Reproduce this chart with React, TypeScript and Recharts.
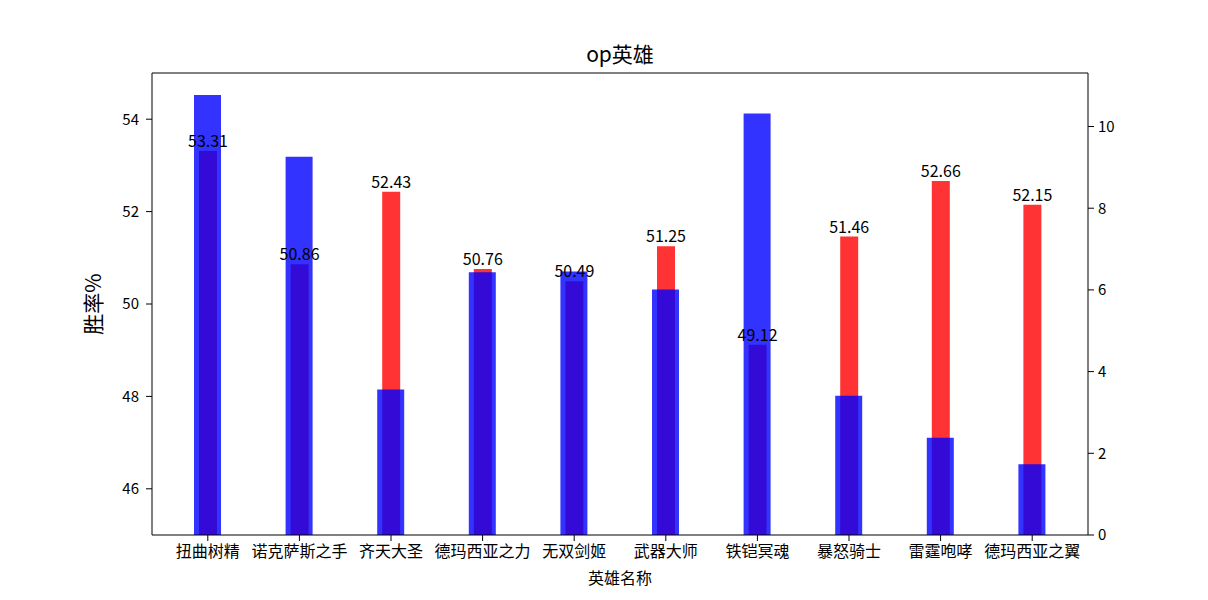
import { BarChart, Bar, XAxis, YAxis, LabelList } from 'recharts'

const heroes = ['扭曲树精', '诺克萨斯之手', '齐天大圣', '德玛西亚之力', '无双剑姬', '武器大师', '铁铠冥魂', '暴怒骑士', '雷霆咆哮', '德玛西亚之翼']
const winRates = [53.31, 50.86, 52.43, 50.76, 50.49, 51.25, 49.12, 51.46, 52.66, 52.15]
const pickRates = [10.77, 9.26, 3.56, 6.43, 6.45, 6.01, 10.32, 3.41, 2.38, 1.73]

const leftTicks = [46, 48, 50, 52, 54]
const rightTicks = [0, 2, 4, 6, 8, 10]

const data = heroes.map((name, i) => ({ name, winRate: winRates[i], pickRate: pickRates[i] }))

const font = '"Noto Sans CJK SC", "DejaVu Sans", sans-serif'
const tickStyle = { fill: '#000', fontSize: 15, fontFamily: font }

export default function App() {
  return (
    <div style={{ position: 'absolute', left: 0, top: 0, width: 1208, height: 600, background: '#fff' }}>
      <BarChart
        width={1208}
        height={600}
        data={data}
        margin={{ top: 72, right: 60, bottom: 35, left: 92 }}
      >
        <XAxis
          xAxisId="a"
          dataKey="name"
          padding={{ left: 10, right: 10 }}
          stroke="#000"
          tickSize={6}
          tickMargin={5}
          height={30}
          interval={0}
          tick={{ ...tickStyle, fontSize: 16 }}
        />
        {/* top spine, also carries the blue bars */}
        <XAxis
          xAxisId="b"
          dataKey="name"
          orientation="top"
          padding={{ left: 10, right: 10 }}
          stroke="#000"
          tick={false}
          tickLine={false}
          height={1}
        />
        <YAxis
          yAxisId="left"
          domain={[45, 55]}
          ticks={leftTicks}
          stroke="#000"
          width={60}
          tickSize={6}
          tickMargin={7}
          tick={tickStyle}
        />
        <YAxis
          yAxisId="right"
          orientation="right"
          domain={[0, 11.31]}
          ticks={rightTicks}
          stroke="#000"
          width={60}
          tickSize={6}
          tickMargin={4}
          tick={tickStyle}
        />
        <Bar xAxisId="a" yAxisId="left" dataKey="winRate" fill="red" fillOpacity={0.8} barSize={18} isAnimationActive={false}>
          <LabelList
            dataKey="winRate"
            position="top"
            offset={4}
            formatter={(v: any) => Number(v).toFixed(2)}
            style={{ fill: '#000', fontSize: 16, fontFamily: font }}
          />
        </Bar>
        <Bar xAxisId="b" yAxisId="right" dataKey="pickRate" fill="blue" fillOpacity={0.8} barSize={27} isAnimationActive={false} />
        <text x={620} y={62} textAnchor="middle" fontSize={21} fontFamily={font} fill="#000">op英雄</text>
        <text x={101} y={304} textAnchor="middle" fontSize={21} fontFamily={font} fill="#000" transform="rotate(-90 101 304)">胜率%</text>
        <text x={620} y={584} textAnchor="middle" fontSize={16} fontFamily={font} fill="#000">英雄名称</text>
      </BarChart>
    </div>
  )
}
